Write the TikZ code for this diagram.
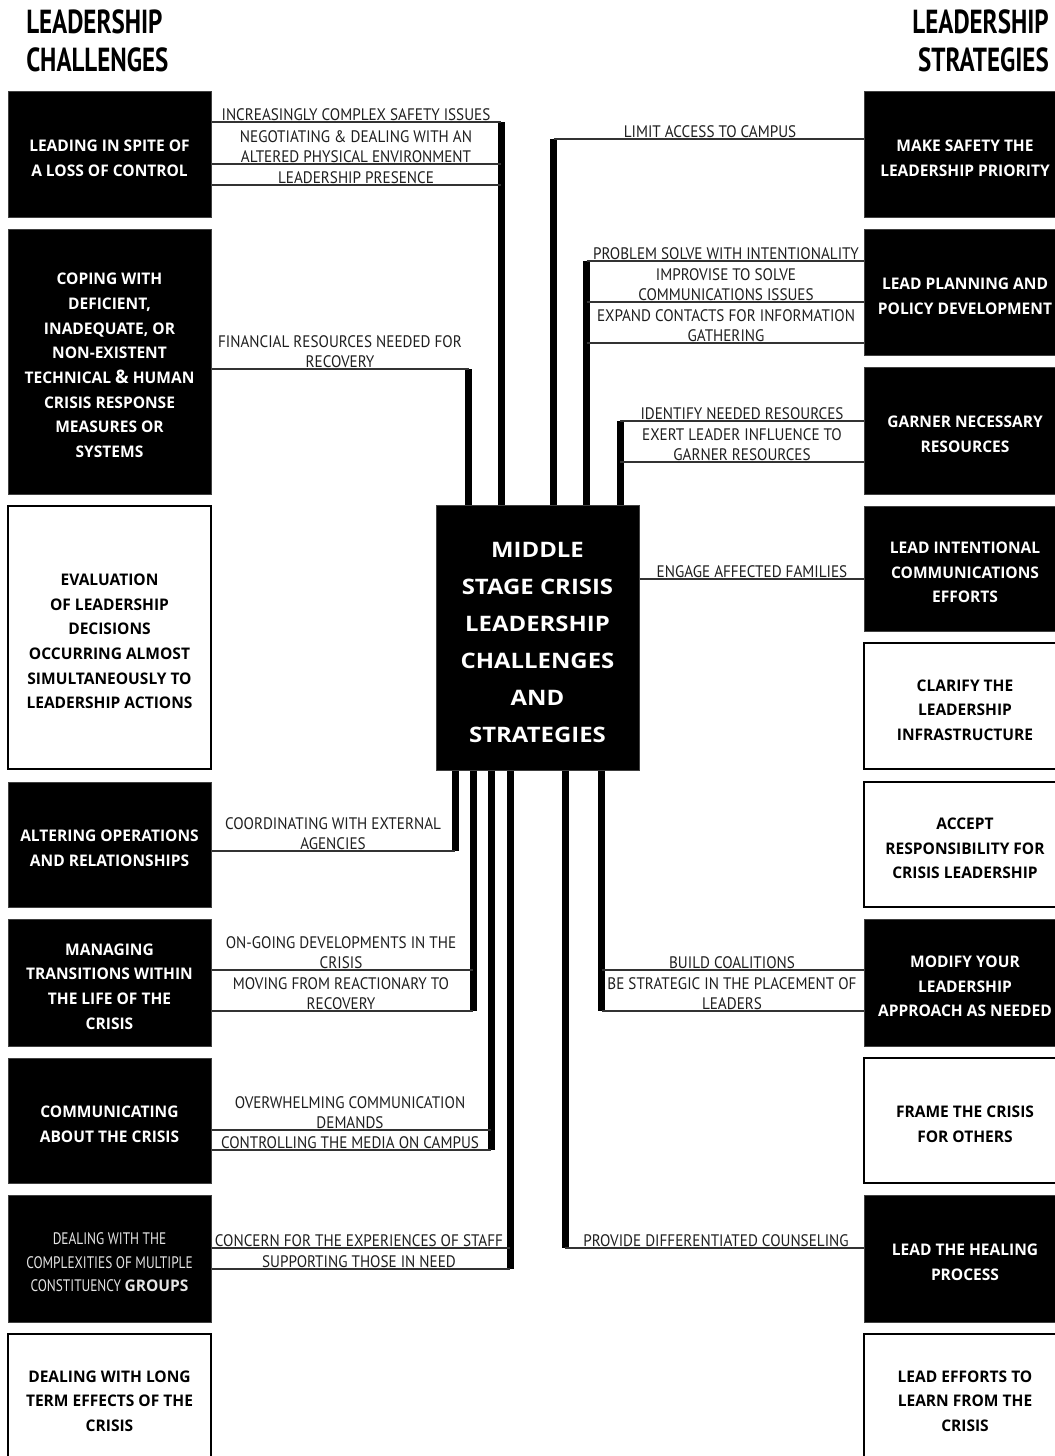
\documentclass[tikz,border=0pt]{standalone}
\usepackage{fontspec}
\setmainfont{PT Sans}
\newfontfamily\lblfont[FakeStretch=0.91]{PT Sans}
\newfontfamily\narrowfont[FakeStretch=0.8]{PT Sans}
\newfontfamily\boxfont[FakeStretch=0.97]{Open Sans}
\newfontfamily\ctrfont[FakeStretch=1.12]{Open Sans}
\newfontfamily\headfont[FakeStretch=0.75]{PT Sans}
\usetikzlibrary{calc}
\definecolor{ink}{HTML}{1E1E1E}
\definecolor{rulegray}{HTML}{333333}
% box body without text, then its caption set slightly below the centre
\newcommand\boxcaption[3]{\node[#1] (#2t) at ([yshift=-3pt]#2.center) {#3};}
\begin{document}
\begin{tikzpicture}[x=0.75pt,y=-0.75pt,
  darkbox/.style={inner sep=0pt, fill=black, draw=black!75, line width=0.75pt},
  lightbox/.style={inner sep=0pt, fill=white, draw=black, line width=1.5pt},
  lcol/.style={minimum width=152.25pt},
  rcol/.style={minimum width=151.5pt},
  boxtxt/.style={inner sep=0pt, align=center, text=white,
    font=\boxfont\bfseries\fontsize{12}{18.5}\selectfont},
  boxtxtdark/.style={boxtxt, text=black},
  ctrbox/.style={fill=black, draw=black!75, line width=0.75pt,
    inner sep=0pt, minimum width=152.25pt, minimum height=198.75pt},
  ctrtxt/.style={inner sep=0pt, align=center, text=white,
    font=\ctrfont\bfseries\fontsize{16}{27.75}\selectfont},
  lbl/.style={inner sep=0.8pt, align=center, text=ink,
    font=\lblfont\fontsize{12.5}{15}\selectfont},
  head/.style={inner sep=0pt, font=\headfont\bfseries\fontsize{25}{28.5}\selectfont},
  rule/.style={draw=rulegray, line width=1.4pt},
  bar/.style={draw=black, line width=5.25pt, line cap=butt},
]
\useasboundingbox (0,0) rectangle (1055,1456);
\clip (0,0) rectangle (1055,1456);

% headings
\node[head, anchor=north west, align=left] (hl) at (26,9) {LEADERSHIP\\CHALLENGES};
\node[head, anchor=north east, align=right] (hr) at (1049,9) {LEADERSHIP\\STRATEGIES};

% central box
\node[ctrbox] (ctr) at (537.5,637.5) {};
\node[ctrtxt] (ctrt) at ([yshift=-3.6pt]ctr.center) {MIDDLE\\STAGE CRISIS\\LEADERSHIP\\CHALLENGES\\AND\\STRATEGIES};

% challenges column
\node[darkbox, lcol, minimum height=94.5pt] (c1) at (109.5,154) {};
\node[darkbox, lcol, minimum height=198.75pt] (c2) at (109.5,361.5) {};
\node[lightbox, lcol, minimum height=197.25pt] (c3) at (109.5,637.5) {};
\node[darkbox, lcol, minimum height=93.75pt] (c4) at (109.5,844.5) {};
\node[darkbox, lcol, minimum height=95.25pt] (c5) at (109.5,982.5) {};
\node[darkbox, lcol, minimum height=93.75pt] (c6) at (109.5,1120.5) {};
\node[darkbox, lcol, minimum height=95.25pt] (c7) at (109.5,1258.5) {};
\node[lightbox, lcol, minimum height=94.5pt] (c8) at (109.5,1397) {};

\boxcaption{boxtxt}{c1}{LEADING IN SPITE OF\\A LOSS OF CONTROL}
\boxcaption{boxtxt}{c2}{COPING WITH\\DEFICIENT,\\INADEQUATE, OR\\NON-EXISTENT\\TECHNICAL {\fontsize{14}{18.5}\selectfont\&} HUMAN\\CRISIS RESPONSE\\MEASURES OR\\SYSTEMS}
\boxcaption{boxtxtdark}{c3}{EVALUATION\\OF LEADERSHIP\\DECISIONS\\OCCURRING ALMOST\\SIMULTANEOUSLY TO\\LEADERSHIP ACTIONS}
\boxcaption{boxtxt}{c4}{ALTERING OPERATIONS\\AND RELATIONSHIPS}
\boxcaption{boxtxt}{c5}{MANAGING\\TRANSITIONS WITHIN\\THE LIFE OF THE\\CRISIS}
\boxcaption{boxtxt}{c6}{COMMUNICATING\\ABOUT THE CRISIS}
\boxcaption{boxtxt, text=black!10, font=\narrowfont\fontsize{12.5}{17.6}\selectfont}{c7}{DEALING WITH THE\\COMPLEXITIES OF MULTIPLE\\CONSTITUENCY {\boxfont\bfseries\fontsize{12}{17.6}\selectfont GROUPS}}
\boxcaption{boxtxtdark}{c8}{DEALING WITH LONG\\TERM EFFECTS OF THE\\CRISIS}

% strategies column
\node[darkbox, rcol, minimum height=94.5pt] (s1) at (965,154) {};
\node[darkbox, rcol, minimum height=94.5pt] (s2) at (965,292) {};
\node[darkbox, rcol, minimum height=95.25pt] (s3) at (965,430.5) {};
\node[darkbox, rcol, minimum height=93.75pt] (s4) at (965,568.5) {};
\node[lightbox, rcol, minimum height=94.5pt] (s5) at (965,706) {};
\node[lightbox, rcol, minimum height=93.75pt] (s6) at (965,844.5) {};
\node[darkbox, rcol, minimum height=95.25pt] (s7) at (965,982.5) {};
\node[lightbox, rcol, minimum height=93.75pt] (s8) at (965,1120.5) {};
\node[darkbox, rcol, minimum height=95.25pt] (s9) at (965,1258.5) {};
\node[lightbox, rcol, minimum height=94.5pt] (s10) at (965,1397) {};

\boxcaption{boxtxt}{s1}{MAKE SAFETY THE\\LEADERSHIP PRIORITY}
\boxcaption{boxtxt}{s2}{LEAD PLANNING AND\\POLICY DEVELOPMENT}
\boxcaption{boxtxt}{s3}{GARNER NECESSARY\\RESOURCES}
\boxcaption{boxtxt}{s4}{LEAD INTENTIONAL\\COMMUNICATIONS\\EFFORTS}
\boxcaption{boxtxtdark}{s5}{CLARIFY THE\\LEADERSHIP\\INFRASTRUCTURE}
\boxcaption{boxtxtdark}{s6}{ACCEPT\\RESPONSIBILITY FOR\\CRISIS LEADERSHIP}
\boxcaption{boxtxt}{s7}{MODIFY YOUR\\LEADERSHIP\\APPROACH AS NEEDED}
\boxcaption{boxtxtdark}{s8}{FRAME THE CRISIS\\FOR OTHERS}
\boxcaption{boxtxt}{s9}{LEAD THE HEALING\\PROCESS}
\boxcaption{boxtxtdark}{s10}{LEAD EFFORTS TO\\LEARN FROM THE\\CRISIS}

% ---- challenge connectors above the centre
\coordinate (a1) at (501,122);
\coordinate (a1b) at (501,164);
\coordinate (a1c) at (501,185);
\draw[bar] (a1) -- (a1 |- ctr.north);
\draw[rule] (c1.east |- a1) -- (a1);
\draw[rule] (c1.east |- a1b) -- (a1b);
\draw[rule] (c1.east |- a1c) -- (a1c);
\node[lbl, anchor=south] (l1a) at (356,122) {INCREASINGLY COMPLEX SAFETY ISSUES};
\node[lbl, anchor=south] (l1b) at (356,164) {NEGOTIATING \& DEALING WITH AN\\ALTERED PHYSICAL ENVIRONMENT};
\node[lbl, anchor=south] (l1c) at (356,185) {LEADERSHIP PRESENCE};

\coordinate (a2) at (468.5,369);
\draw[bar] (a2) -- (a2 |- ctr.north);
\draw[rule] (c2.east |- a2) -- (a2);
\node[lbl, anchor=south] (l2a) at (340,369) {FINANCIAL RESOURCES NEEDED FOR\\RECOVERY};

% ---- strategy connectors above the centre
\coordinate (b1) at (553.5,139);
\draw[bar] (b1) -- (b1 |- ctr.north);
\draw[rule] (b1) -- (s1.west |- b1);
\node[lbl, anchor=south] (m1a) at (710,139) {LIMIT ACCESS TO CAMPUS};

\coordinate (b2) at (586.5,261);
\coordinate (b2b) at (586.5,302);
\coordinate (b2c) at (586.5,343);
\draw[bar] (b2) -- (b2 |- ctr.north);
\draw[rule] (b2) -- (s2.west |- b2);
\draw[rule] (b2b) -- (s2.west |- b2b);
\draw[rule] (b2c) -- (s2.west |- b2c);
\node[lbl, anchor=south] (m2a) at (726,261) {PROBLEM SOLVE WITH INTENTIONALITY};
\node[lbl, anchor=south] (m2b) at (726,302) {IMPROVISE TO SOLVE\\COMMUNICATIONS ISSUES};
\node[lbl, anchor=south] (m2c) at (726,343) {EXPAND CONTACTS FOR INFORMATION\\GATHERING};

\coordinate (b3) at (620,421);
\coordinate (b3b) at (620,462);
\draw[bar] (b3) -- (b3 |- ctr.north);
\draw[rule] (b3) -- (s3.west |- b3);
\draw[rule] (b3b) -- (s3.west |- b3b);
\node[lbl, anchor=south] (m3a) at (742,421) {IDENTIFY NEEDED RESOURCES};
\node[lbl, anchor=south] (m3b) at (742,462) {EXERT LEADER INFLUENCE TO\\GARNER RESOURCES};

\coordinate (b4) at (700,579);
\draw[rule] (ctr.east |- b4) -- (s4.west |- b4);
\node[lbl, anchor=south] (m4a) at (752,579) {ENGAGE AFFECTED FAMILIES};

% ---- challenge connectors below the centre
\coordinate (d4) at (455,851);
\draw[bar] (d4 |- ctr.south) -- (d4);
\draw[rule] (c4.east |- d4) -- (d4);
\node[lbl, anchor=south] (l4a) at (333,851) {COORDINATING WITH EXTERNAL\\AGENCIES};

\coordinate (d5) at (473,970);
\coordinate (d5b) at (473,1011);
\draw[bar] (d5b |- ctr.south) -- (d5b);
\draw[rule] (c5.east |- d5) -- (d5);
\draw[rule] (c5.east |- d5b) -- (d5b);
\node[lbl, anchor=south] (l5a) at (341,970) {ON-GOING DEVELOPMENTS IN THE\\CRISIS};
\node[lbl, anchor=south] (l5b) at (341,1011) {MOVING FROM REACTIONARY TO\\RECOVERY};

\coordinate (d6) at (491,1130);
\coordinate (d6b) at (491,1150);
\draw[bar] (d6b |- ctr.south) -- (d6b);
\draw[rule] (c6.east |- d6) -- (d6);
\draw[rule] (c6.east |- d6b) -- (d6b);
\node[lbl, anchor=south] (l6a) at (350,1130) {OVERWHELMING COMMUNICATION\\DEMANDS};
\node[lbl, anchor=south] (l6b) at (350,1150) {CONTROLLING THE MEDIA ON CAMPUS};

\coordinate (d7) at (510,1248);
\coordinate (d7b) at (510,1269);
\draw[bar] (d7b |- ctr.south) -- (d7b);
\draw[rule] (c7.east |- d7) -- (d7);
\draw[rule] (c7.east |- d7b) -- (d7b);
\node[lbl, anchor=south] (l7a) at (359,1248) {CONCERN FOR THE EXPERIENCES OF STAFF};
\node[lbl, anchor=south] (l7b) at (359,1269) {SUPPORTING THOSE IN NEED};

% ---- strategy connectors below the centre
\coordinate (e7) at (601.5,970);
\coordinate (e7b) at (601.5,1011);
\draw[bar] (e7b |- ctr.south) -- (e7b);
\draw[rule] (e7) -- (s7.west |- e7);
\draw[rule] (e7b) -- (s7.west |- e7b);
\node[lbl, anchor=south] (m7a) at (732,970) {BUILD COALITIONS};
\node[lbl, anchor=south] (m7b) at (732,1011) {BE STRATEGIC IN THE PLACEMENT OF\\LEADERS};

\coordinate (e9) at (565,1248);
\draw[bar] (e9 |- ctr.south) -- (e9);
\draw[rule] (e9) -- (s9.west |- e9);
\node[lbl, anchor=south] (m9a) at (716,1248) {PROVIDE DIFFERENTIATED COUNSELING};
\end{tikzpicture}
\end{document}
